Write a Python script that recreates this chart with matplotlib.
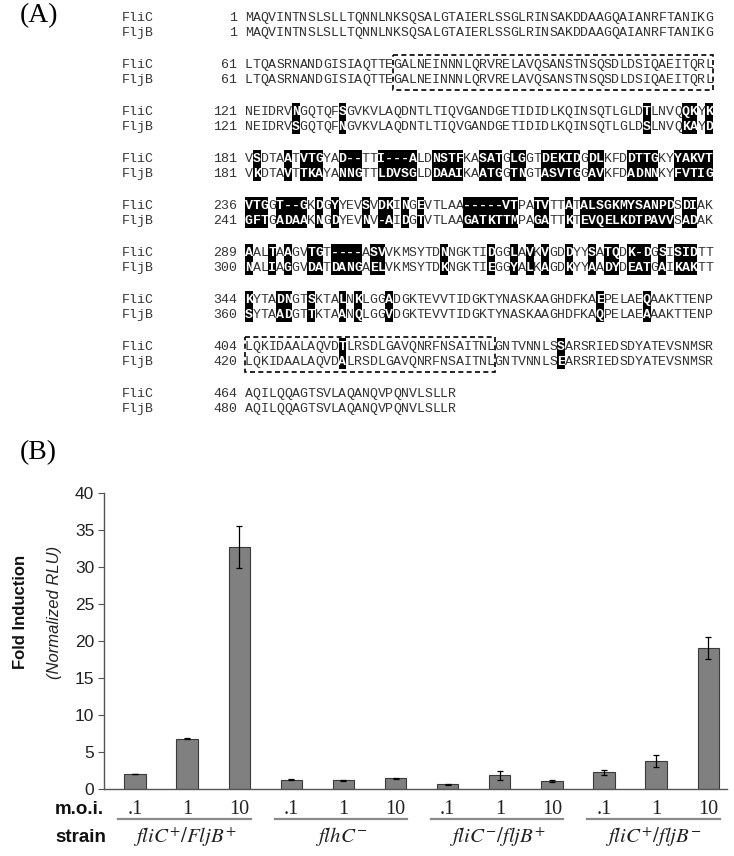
import matplotlib
matplotlib.use('Agg')
import matplotlib.pyplot as plt
from matplotlib.patches import Rectangle
from matplotlib import transforms

plt.rcParams['mathtext.fontset'] = 'stix'

# ---- panel A data: FliC / FljB alignment ----
flic_starts = [1, 61, 121, 181, 236, 289, 344, 404, 464]
fljb_starts = [1, 61, 121, 181, 241, 300, 360, 420, 480]
flic_rows = [
    "MAQVINTNSLSLLTQNNLNKSQSALGTAIERLSSGLRINSAKDDAAGQAIANRFTANIKG",
    "LTQASRNANDGISIAQTTEGALNEINNNLQRVRELAVQSANSTNSQSDLDSIQAEITQRL",
    "NEIDRVNGQTQFSGVKVLAQDNTLTIQVGANDGETIDIDLKQINSQTLGLDTLNVQQKYK",
    "VSDTAATVTGYAD--TTI---ALDNSTFKASATGLGGTDEKIDGDLKFDDTTGKYYAKVT",
    "VTGGT--GKDGYYEVSVDKINGEVTLAA-----VTPATVTTATALSGKMYSANPDSDIAK",
    "AALTAAGVTGT----ASVVKMSYTDNNGKTIDGGLAVKVGDDYYSATQDK-DGSISIDTT",
    "KYTADNGTSKTALNKLGGADGKTEVVTIDGKTYNASKAAGHDFKAEPELAEQAAKTTENP",
    "LQKIDAALAQVDTLRSDLGAVQNRFNSAITNLGNTVNNLSSARSRIEDSDYATEVSNMSR",
    "AQILQQAGTSVLAQANQVPQNVLSLLR",
]
fljb_rows = [
    "MAQVINTNSLSLLTQNNLNKSQSALGTAIERLSSGLRINSAKDDAAGQAIANRFTANIKG",
    "LTQASRNANDGISIAQTTEGALNEINNNLQRVRELAVQSANSTNSQSDLDSIQAEITQRL",
    "NEIDRVSGQTQFNGVKVLAQDNTLTIQVGANDGETIDIDLKQINSQTLGLDSLNVQKAYD",
    "VKDTAVTTKAYANNGTTLDVSGLDDAAIKAATGGTNGTASVTGGAVKFDADNNKYFVTIG",
    "GFTGADAAKNGDYEVNV-AIDGTVTLAAGATKTTMPAGATTKTEVQELKDTPAVVSADAK",
    "NALIAGGVDATDANGAELVKMSYTDKNGKTIEGGYALKAGDKYYAADYDEATGAIKAKTT",
    "SYTAADGTTKTAANQLGGVDGKTEVVTIDGKTYNASKAAGHDFKAQPELAEAAAKTTENP",
    "LQKIDAALAQVDALRSDLGAVQNRFNSAITNLGNTVNNLSEARSRIEDSDYATEVSNMSR",
    "AQILQQAGTSVLAQANQVPQNVLSLLR",
]
# dashed boxes: (row, first column, last column + 1)
boxes = [(1, 19, 60), (7, 0, 32)]

# ---- panel B data ----
moi_labels = ['.1', '1', '10'] * 4
strain_labels = [r'$\mathit{fliC}^{+}/\mathit{FljB}^{+}$',
                 r'$\mathit{flhC}^{-}$',
                 r'$\mathit{fliC}^{-}/\mathit{fljB}^{+}$',
                 r'$\mathit{fliC}^{+}/\mathit{fljB}^{-}$']
fold = [2.0, 6.8, 32.7, 1.28, 1.15, 1.42, 0.65, 1.85, 1.05, 2.25, 3.8, 19.05]
fold_err = [0.0, 0.05, 2.8, 0.08, 0.1, 0.04, 0.08, 0.6, 0.1, 0.32, 0.8, 1.5]

W, H = 734, 856
fig = plt.figure(figsize=(W / 100, H / 100), dpi=100)

# full-figure axes in pixel units for panel A and loose labels
ax_a = fig.add_axes([0, 0, 1, 1])
ax_a.set_xlim(0, W)
ax_a.set_ylim(H, 0)
ax_a.axis('off')

mono = 'Liberation Mono'
x0, cw = 245, 7.8          # sequence start, char width (px)
y0, dy, pair = 18, 47, 15  # first row, row step, FliC->FljB step

for r in range(len(flic_rows)):
    a, b = flic_rows[r], fljb_rows[r]
    y1, y2 = y0 + r * dy, y0 + r * dy + pair
    for name, start, y in [('FliC', flic_starts[r], y1), ('FljB', fljb_starts[r], y2)]:
        ax_a.text(122, y, name, family=mono, fontsize=9.5, color='#333', va='center')
        ax_a.text(237, y, str(start), family=mono, fontsize=9.5, color='#333',
                  va='center', ha='right')
    diff = [c1 != c2 for c1, c2 in zip(a, b)]
    # black blocks over runs of differing residues
    i = 0
    while i < len(diff):
        if diff[i]:
            j = i
            while j < len(diff) and diff[j]:
                j += 1
            ax_a.add_patch(Rectangle((x0 + i * cw, y1 - 9), (j - i) * cw, pair + 16,
                                     fc='black', ec='none', lw=0))
            i = j
        else:
            i += 1
    for i, (c1, c2) in enumerate(zip(a, b)):
        xc = x0 + (i + 0.5) * cw
        kw = dict(family=mono, fontsize=9.5, ha='center', va='center')
        if diff[i]:
            kw.update(color='white', weight='bold')
        else:
            kw.update(color='#333')
        ax_a.text(xc, y1, c1, **kw)
        ax_a.text(xc, y2, c2, **kw)

for r, c0, c1 in boxes:
    y1 = y0 + r * dy
    ax_a.add_patch(Rectangle((x0 + c0 * cw, y1 - 10), (c1 - c0) * cw, pair + 20,
                             fill=False, ec='black', lw=1.2, ls=(0, (3, 2))))

ax_a.text(20, 16, '(A)', family='Liberation Serif', fontsize=20, va='center')
ax_a.text(20, 453, '(B)', family='Liberation Serif', fontsize=20, va='center')

# ---- panel B ----
ax = fig.add_axes([104 / W, 1 - 789 / H, (727 - 104) / W, 296 / H])
ax.patch.set_alpha(0)
xs = list(range(len(fold)))
ax.bar(xs, fold, width=0.41, color='#808080', edgecolor='#3a3a3a', linewidth=0.8)
ax.errorbar(xs, fold, yerr=fold_err, fmt='none', ecolor='black', elinewidth=0.9,
            capsize=2.5, capthick=0.9)
ax.set_xlim(-0.595, 11.36)
ax.set_ylim(0, 40)
ax.set_yticks(range(0, 41, 5))
ax.set_xticks([])
for s in ['top', 'right']:
    ax.spines[s].set_visible(False)
for s in ['left', 'bottom']:
    ax.spines[s].set_color('#555555')
    ax.spines[s].set_linewidth(1.0)
ax.tick_params(axis='y', direction='out', length=4, width=0.8, color='#555555',
               labelsize=12.5, labelcolor='#222', pad=3)
for lab in ax.get_yticklabels():
    lab.set_family('Liberation Sans')

trans = transforms.blended_transform_factory(ax.transData, ax.transAxes)
for x, lab in zip(xs, moi_labels):
    ax.text(x, -21 / 296, lab, transform=trans, family='Liberation Serif',
            fontsize=14.5, ha='center', va='center', color='#222')
for g, lab in enumerate(strain_labels):
    xa, xb = 3 * g - 0.32, 3 * g + 2 + 0.22
    ax.plot([xa, xb], [-30 / 296, -30 / 296], transform=trans, color='#8a8a8a',
            lw=1.6, clip_on=False)
    ax.text((xa + xb) / 2, -48 / 296, lab, transform=trans, fontsize=15,
            ha='center', va='center', color='#222')

ax_a.text(55, 810, 'm.o.i.', family='Liberation Sans', weight='bold', fontsize=13.5,
          va='center', color='#111')
ax_a.text(55, 837, 'strain', family='Liberation Sans', weight='bold', fontsize=13.5,
          va='center', color='#111')
ax_a.text(21, 612, 'Fold Induction', family='Liberation Sans', weight='bold',
          fontsize=12, rotation=90, ha='center', va='center', color='#111')
ax_a.text(55, 612, '(Normalized RLU)', family='Liberation Sans', style='italic',
          fontsize=12, rotation=90, ha='center', va='center', color='#222')

fig.savefig('out.png', dpi=100)
